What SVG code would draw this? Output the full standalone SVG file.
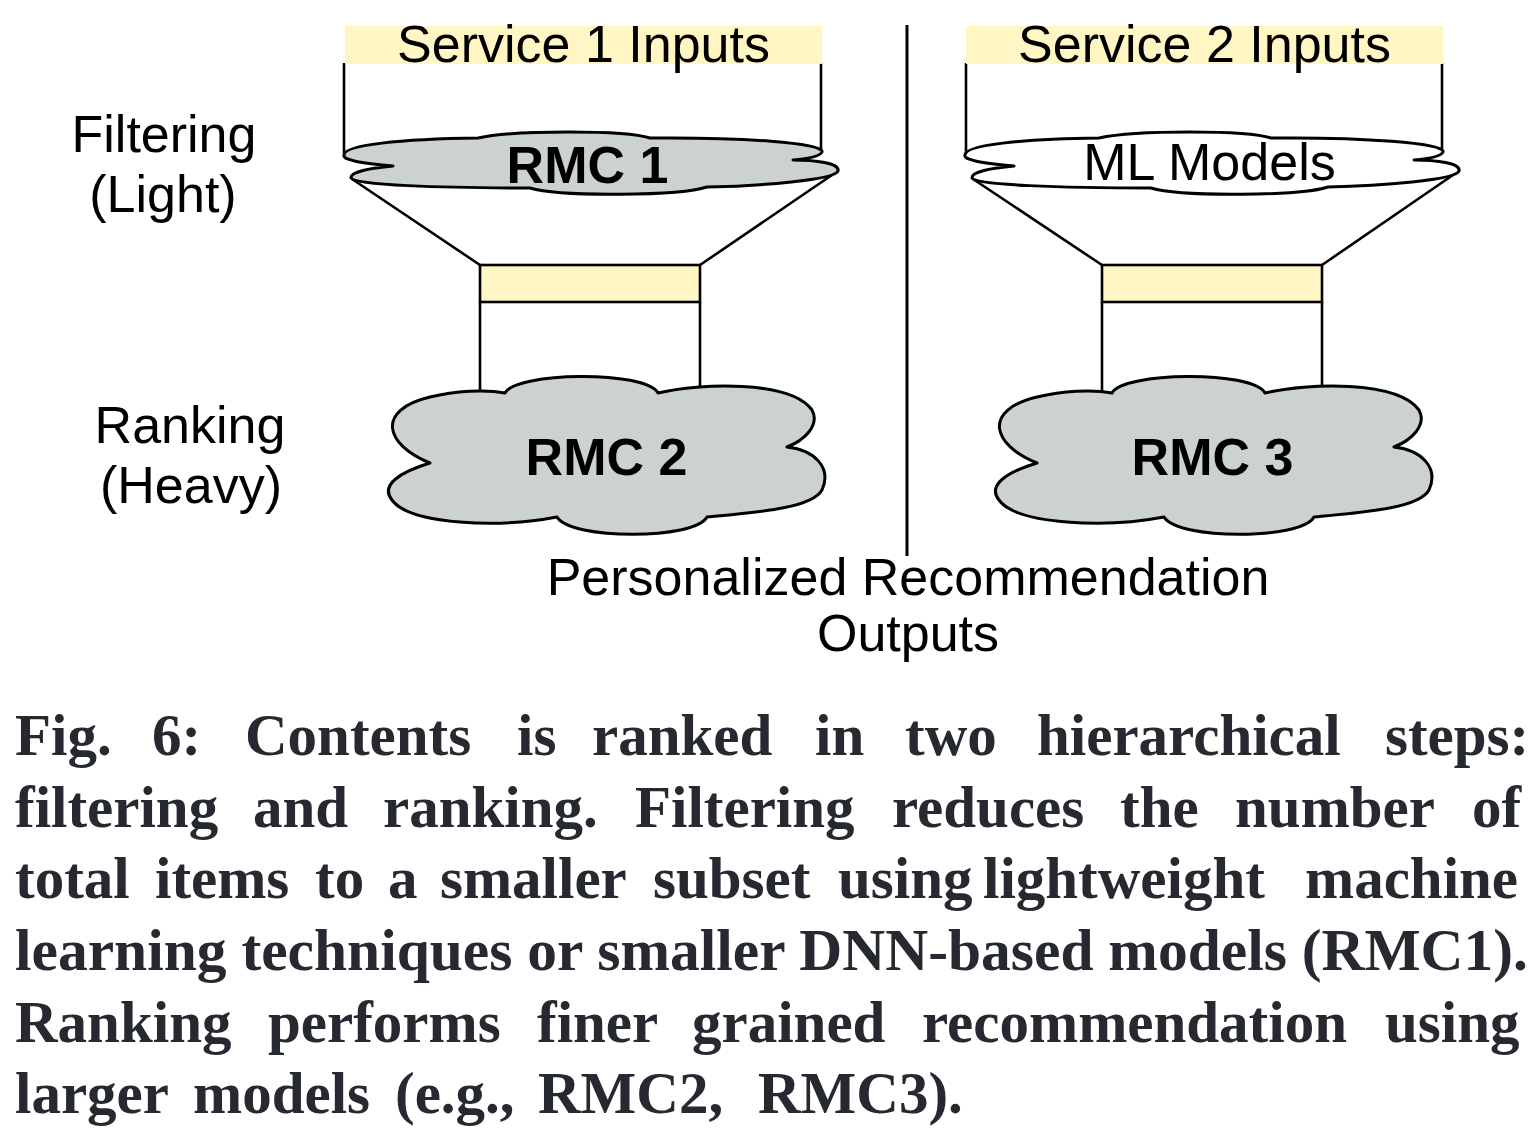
<svg xmlns="http://www.w3.org/2000/svg" width="1540" height="1142" viewBox="0 0 1540 1142">
<style>
.sans{font-family:"Liberation Sans",Arial,sans-serif;fill:#000;}
.lbl{font-size:52px;text-anchor:middle;}
.bold{font-weight:bold;}
.cap{font-family:"Liberation Serif","Times New Roman",serif;font-weight:bold;font-size:59px;fill:#262930;}
.ln{stroke:#000;stroke-width:2.6;fill:none;}
.cloud{stroke:#000;stroke-width:3;stroke-linejoin:round;}
.band{fill:#fff6c4;}
.box{fill:#fff6c4;stroke:#000;stroke-width:2.6;}
</style>
<defs>
<path id="flatCloud" d="M344,155 C344,145 400,139 478,138 C515,130 625,130 650,138 C740,137 825,143 822,152 C820,157 805,159 793,160 C815,160 840,163 838,171 C835,180 760,186 707,187 C680,196 560,197 530,188 C440,188 355,185 351,178 C350,172 370,168 393,166 C370,164 342,161 344,155 Z"/>
<path id="bigCloud" d="M430,463 C385,445 375,410 430,397 C455,391 485,389 505,393 C515,372 645,370 658,393 C700,383 790,380 812,410 C820,425 805,440 787,447 C815,450 832,468 822,490 C812,508 760,512 707,517 C695,540 570,540 557,517 C500,528 410,525 392,500 C380,485 400,472 430,463 Z"/>
</defs>
<rect width="1540" height="1142" fill="#fff"/>

<g id="connectors">
<line class="ln" x1="344" y1="63" x2="344" y2="153"/>
<line class="ln" x1="821" y1="63" x2="821" y2="151"/>
<line class="ln" x1="966" y1="63" x2="966" y2="153"/>
<line class="ln" x1="1442" y1="63" x2="1442" y2="151"/>
<line class="ln" x1="352" y1="179" x2="480" y2="265"/>
<line class="ln" x1="832" y1="175" x2="700" y2="265"/>
<line class="ln" x1="973" y1="179" x2="1102" y2="265"/>
<line class="ln" x1="1453" y1="175" x2="1322" y2="265"/>
<line class="ln" x1="480" y1="302" x2="480" y2="393"/>
<line class="ln" x1="700" y1="302" x2="700" y2="388"/>
<line class="ln" x1="1102" y1="302" x2="1102" y2="393"/>
<line class="ln" x1="1322" y1="302" x2="1322" y2="388"/>
<line x1="907" y1="25" x2="907" y2="556" stroke="#000" stroke-width="3"/>
</g>

<g id="service1">
<rect class="band" x="345" y="26" width="477" height="38"/>
<text class="sans lbl" x="583.5" y="62">Service 1 Inputs</text>
</g>
<g id="service2">
<rect class="band" x="966" y="26" width="477" height="38"/>
<text class="sans lbl" x="1204.5" y="62">Service 2 Inputs</text>
</g>

<g id="rmc1">
<use href="#flatCloud" class="cloud" fill="#ccd2cf"/>
<text class="sans lbl bold" x="587.5" y="183" font-size="51">RMC 1</text>
</g>
<g id="mlmodels">
<use href="#flatCloud" class="cloud" fill="#fff" transform="translate(621,0)"/>
<text class="sans lbl" x="1209.5" y="180">ML Models</text>
</g>

<g id="filter1">
<rect class="box" x="480" y="265" width="220" height="37"/>
</g>
<g id="filter2">
<rect class="box" x="1102" y="265" width="220" height="37"/>
</g>

<g id="rmc2">
<use href="#bigCloud" class="cloud" fill="#ccd2cf"/>
<text class="sans lbl bold" x="606.5" y="475">RMC 2</text>
</g>
<g id="rmc3">
<use href="#bigCloud" class="cloud" fill="#ccd2cf" transform="translate(607,0)"/>
<text class="sans lbl bold" x="1212.5" y="475">RMC 3</text>
</g>

<g id="labels">
<text class="sans lbl" x="164" y="152">Filtering</text>
<text class="sans lbl" x="163" y="212">(Light)</text>
<text class="sans lbl" x="190" y="443">Ranking</text>
<text class="sans lbl" x="191" y="503">(Heavy)</text>
</g>

<g id="outputs">
<text class="sans lbl" x="908" y="595">Personalized Recommendation</text>
<text class="sans lbl" x="908" y="651">Outputs</text>
</g>

<g id="caption" class="cap">
<text y="755"><tspan x="15">Fig.</tspan><tspan x="152">6:</tspan><tspan x="245">Contents</tspan><tspan x="517">is</tspan><tspan x="592">ranked</tspan><tspan x="815">in</tspan><tspan x="905">two</tspan><tspan x="1037">hierarchical</tspan><tspan x="1385">steps:</tspan></text>
<text y="827"><tspan x="15">filtering</tspan><tspan x="253">and</tspan><tspan x="383">ranking.</tspan><tspan x="635">Filtering</tspan><tspan x="892">reduces</tspan><tspan x="1120">the</tspan><tspan x="1235">number</tspan><tspan x="1472">of</tspan></text>
<text y="898"><tspan x="15">total</tspan><tspan x="155">items</tspan><tspan x="315">to</tspan><tspan x="388">a</tspan><tspan x="440">smaller</tspan><tspan x="653">subset</tspan><tspan x="838">using</tspan><tspan x="983">lightweight</tspan><tspan x="1305">machine</tspan></text>
<text x="15" y="970" textLength="1513" lengthAdjust="spacingAndGlyphs">learning techniques or smaller DNN-based models (RMC1).</text>
<text y="1042"><tspan x="15">Ranking</tspan><tspan x="268">performs</tspan><tspan x="537">finer</tspan><tspan x="692">grained</tspan><tspan x="922">recommendation</tspan><tspan x="1385">using</tspan></text>
<text y="1113"><tspan x="15">larger</tspan><tspan x="193">models</tspan><tspan x="395">(e.g.,</tspan><tspan x="538">RMC2,</tspan><tspan x="758">RMC3).</tspan></text>
</g>
</svg>
